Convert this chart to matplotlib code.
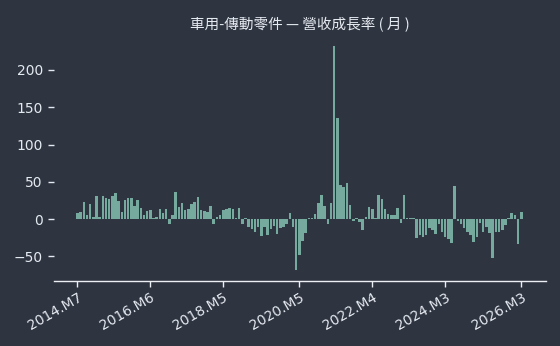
import pandas as pd
import matplotlib.pyplot as plt

# monthly revenue growth rate (%), 2014.M7 .. 2026.M3
growth = [
    8, 9, 23, 5, 20, 3, 31, 3, 31, 28,
    27, 31, 35, 24, 9, 26, 28, 28, 18, 26,
    15, 5, 11, 12, 1, 3, 13, 8, 13, -6,
    6, 36, 16, 21, 12, 13, 20, 23, 29, 12,
    11, 9, 18, -7, 3, 6, 12, 13, 15, 13,
    1, 15, -7, 2, -10, -13, -18, -11, -23, -11,
    -21, -13, -9, -20, -12, -10, -7, 8, -11, -68,
    -48, -29, -19, 1, 2, 7, 21, 32, 18, -6,
    22, 232, 135, 46, 43, 49, 19, -3, 2, -4,
    -14, 3, 16, 14, 2, 32, 27, 13, 7, 5,
    5, 15, -5, 32, 1, 1, 2, -25, -22, -24,
    -22, -12, -14, -20, -6, -18, -24, -27, -32, 45,
    -3, -6, -12, -17, -21, -31, -24, -5, -18, -10,
    -19, -52, -17, -18, -14, -8, 2, 8, 5, -34,
    10,
]
months = pd.period_range("2014-07", periods=len(growth), freq="M")
month_labels = [f"{p.year}.M{p.month}" for p in months]
tick_labels = ["2014.M7", "2016.M6", "2018.M5", "2020.M5", "2022.M4", "2024.M3", "2026.M3"]

bg = "#2e3440"
fg = "#e5e9f0"

fig = plt.figure(figsize=(5.6, 3.46), dpi=100, facecolor=bg)
ax = fig.add_axes([0.0964, 0.188, 0.8786, 0.711], facecolor=bg)

x = list(range(len(growth)))
ax.bar(x, growth, width=0.8, color="#76aa9e")

ax.set_xlim(-7.4, 147.8)
ax.set_ylim(-83, 247)
ax.set_yticks([-50, 0, 50, 100, 150, 200])

ticks = [month_labels.index(t) for t in tick_labels]
ax.set_xticks(ticks)
ax.set_xticklabels(tick_labels, rotation=30, ha="right", rotation_mode="anchor")

for side in ["top", "right", "left"]:
    ax.spines[side].set_visible(False)
ax.spines["bottom"].set_color("#eceff4")
ax.spines["bottom"].set_linewidth(1)

ax.tick_params(axis="x", colors=fg, labelsize=10, length=4, width=1, pad=3)
ax.tick_params(axis="y", colors=fg, labelsize=10, length=4, width=1, pad=4)
ax.tick_params(axis="x", color="#eceff4")

ax.set_title("車用-傳動零件 — 營收成長率 ( 月 )", color=fg, fontsize=10.5,
             family=["Noto Sans CJK TC", "DejaVu Sans"], pad=4)

fig.savefig("out.png", dpi=100, facecolor=bg)
